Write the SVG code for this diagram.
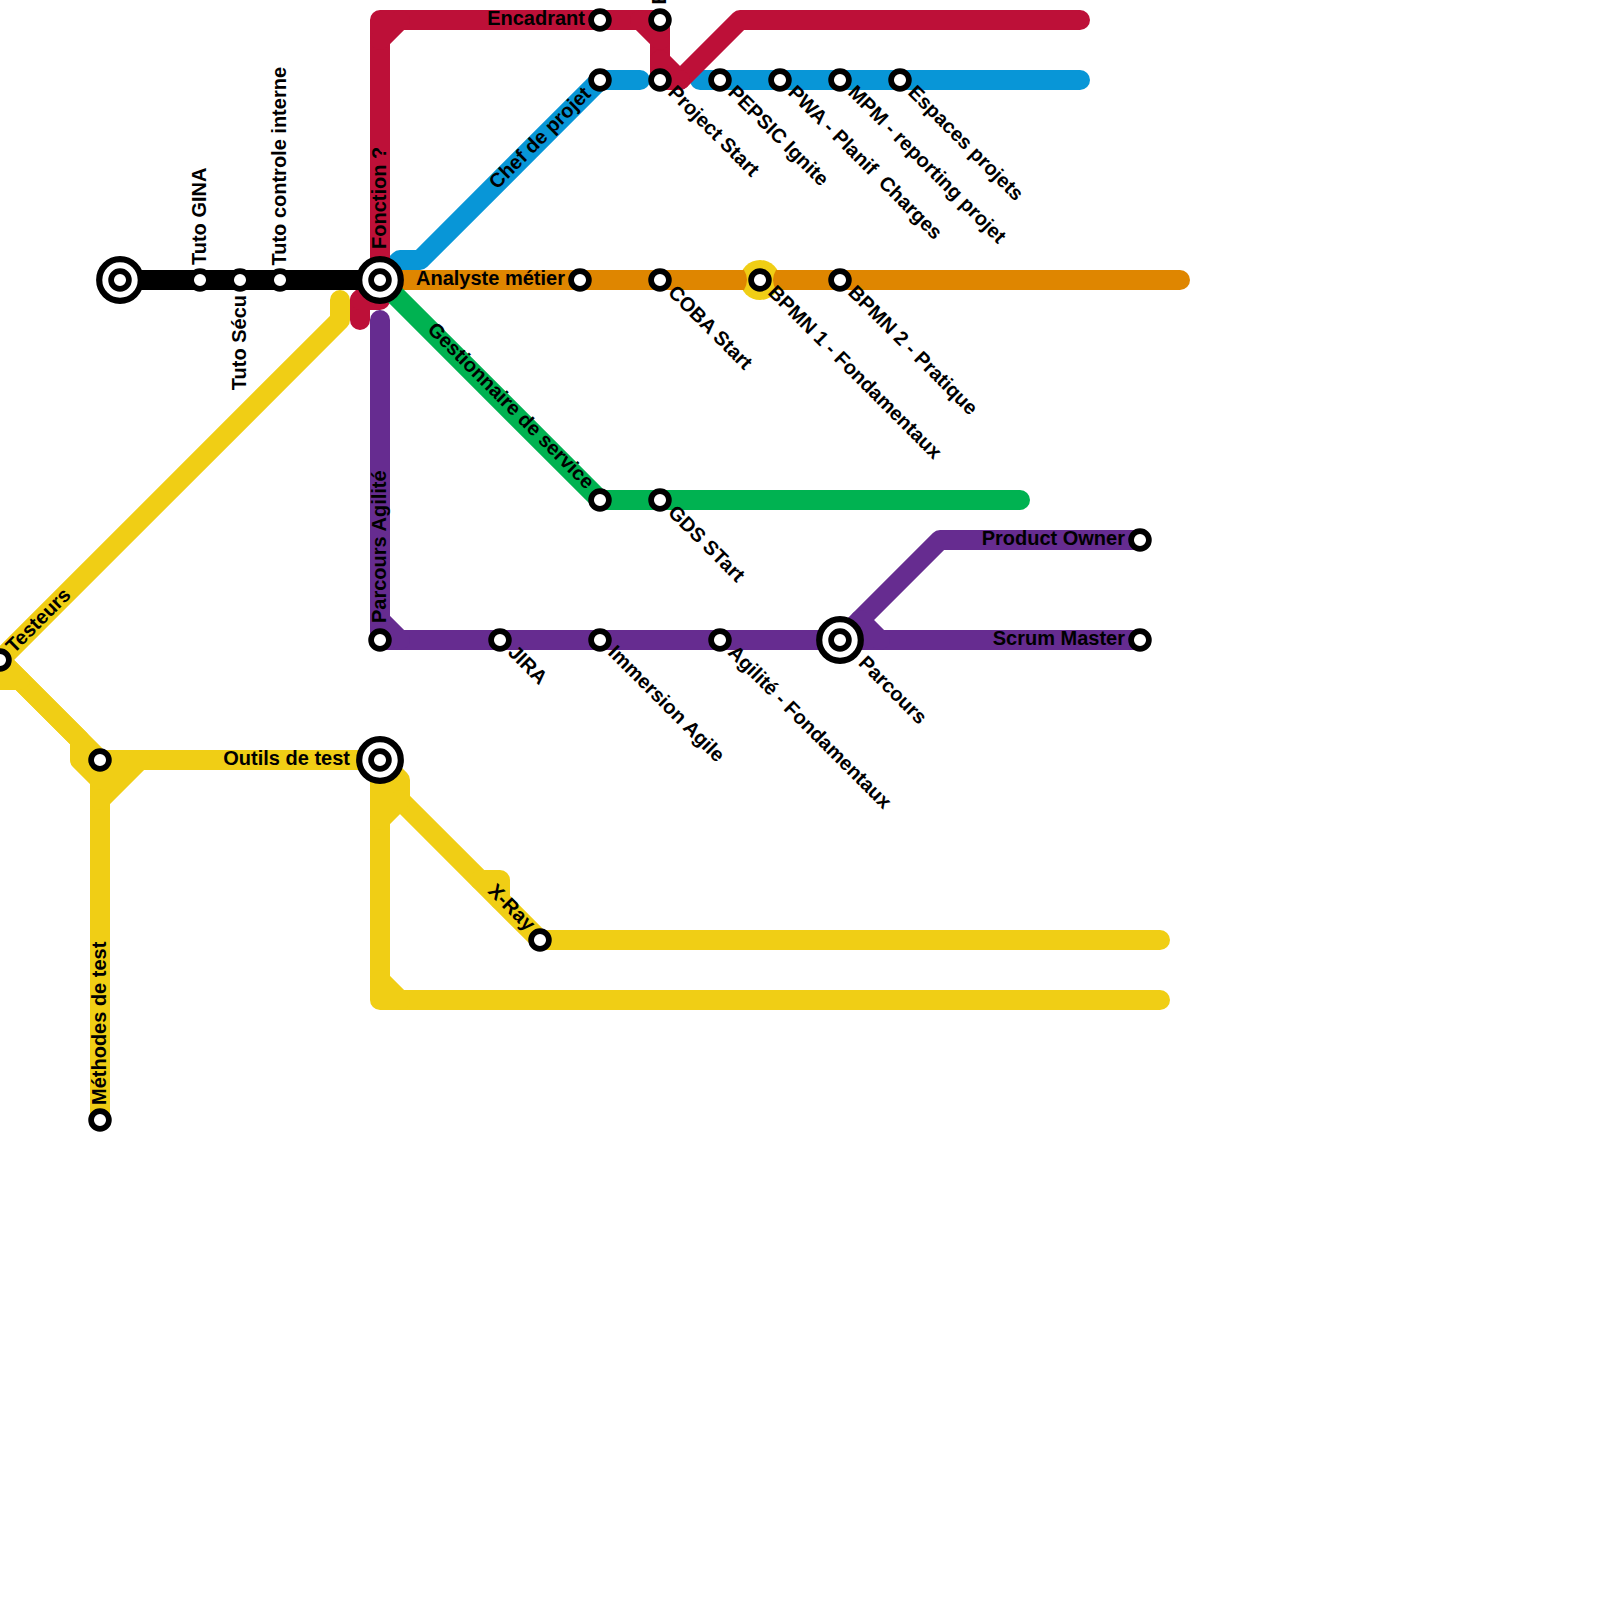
<svg xmlns="http://www.w3.org/2000/svg" width="1600" height="1600" viewBox="0 0 1600 1600">
<style>
.l{fill:none;stroke-width:20;stroke-linecap:round;stroke-linejoin:round}
.y{stroke:#f0ce15}.r{stroke:#bd1038}.b{stroke:#0896d7}.g{stroke:#00b251}.p{stroke:#662c90}.k{stroke:#000}
.s{fill:#fff;stroke:#000;stroke-width:5.7}
.h{fill:#fff;stroke:#000;stroke-width:6.2}
text{font-family:"Liberation Sans",Arial,sans-serif;font-weight:700;font-size:20px;fill:#000}
.e{text-anchor:end}
</style>
<g id="connectors">
<path class="l y" d="M340 300V320L0 660"/>
<path class="l y" d="M0 660L100 760H380"/>
<path class="l y" d="M0 660L80 740V760L100 780V1120"/>
<path class="l y" d="M100 800L140 760"/>
<path class="l y" d="M100 780L120 760"/>
<path class="l y" d="M0 680H20"/>
<path class="l y" d="M380 760V1000H1160"/>
<path class="l y" d="M380 980L400 1000"/>
<path class="l y" d="M380 760L400 780V800L540 940H1160"/>
<path class="l y" d="M380 820L400 800"/>
<path class="l y" d="M480 880H500V900"/>
<path class="l b" d="M380 280L400 260H420L600 80H640"/>
<path class="l b" d="M700 80H1080"/>
<path class="l r" d="M380 280V20H660V80"/>
<path class="l r" d="M380 40L400 20"/>
<path class="l r" d="M640 20L660 40"/>
<path class="l r" d="M660 60L680 80L740 20H1080"/>
<path class="l r" d="M660 80H680"/>
<path class="l r" d="M360 320V300L380 280"/>
<path class="l r" d="M360 300H380"/>
<circle cx="760" cy="280" r="20" fill="#f0ce15"/>
<path fill="#df8600" d="M380 270H744Q750 280 744 290H380Z"/>
<path fill="#df8600" d="M776 270Q770 280 776 290H1180A10 10 0 0 0 1180 270Z"/>
<path class="l g" d="M380 280L600 500H1020"/>
<path class="l p" d="M380 320V640H1140"/>
<path class="l p" d="M380 620L400 640"/>
<path class="l p" d="M840 640L940 540H1140"/>
<path class="l p" d="M860 620L880 640"/>
<path class="l k" d="M120 280H380"/>
</g>
<g id="n-tronc"><circle class="h" cx="120" cy="280" r="20.8"/><circle class="s" cx="120" cy="280" r="8.9"/></g>
<g id="n-gina"><circle class="s" cx="200" cy="280" r="8.9"/><text transform="translate(206,265) rotate(-90)">Tuto GINA</text></g>
<g id="n-secu"><circle class="s" cx="240" cy="280" r="8.9"/><text class="e" transform="translate(246,295) rotate(-90)">Tuto Sécu</text></g>
<g id="n-controle"><circle class="s" cx="280" cy="280" r="8.9"/><text transform="translate(286,265.5) rotate(-90)">Tuto controle interne</text></g>
<g id="n-fonction"><circle class="h" cx="380" cy="280" r="20.8"/><circle class="s" cx="380" cy="280" r="8.9"/><text transform="translate(386,249) rotate(-90)">Fonction ?</text></g>
<g id="n-analyste"><circle class="s" cx="580" cy="280" r="8.9"/><text class="e" x="565" y="285">Analyste métier</text></g>
<g id="n-coba"><circle class="s" cx="660" cy="280" r="8.9"/><text transform="translate(667,293.5) rotate(45)">COBA Start</text></g>
<g id="n-bpmn1"><circle class="s" cx="760" cy="280" r="8.9"/><text transform="translate(767,293.5) rotate(45)">BPMN 1 - Fondamentaux</text></g>
<g id="n-bpmn2"><circle class="s" cx="840" cy="280" r="8.9"/><text transform="translate(847,293.5) rotate(45)">BPMN 2 - Pratique</text></g>
<g id="n-encadrant"><circle class="s" cx="600" cy="20" r="8.9"/><text class="e" x="585" y="25">Encadrant</text></g>
<g id="n-top"><circle class="s" cx="660" cy="20" r="8.9"/><text transform="translate(666,4.5) rotate(-90)">E</text></g>
<g id="n-chef"><circle class="s" cx="600" cy="80" r="8.9"/><text class="e" transform="translate(592,95) rotate(-45)">Chef de projet</text></g>
<g id="n-start"><circle class="s" cx="660" cy="80" r="8.9"/><text transform="translate(667,93.5) rotate(45)">Project Start</text></g>
<g id="n-pepsic"><circle class="s" cx="720" cy="80" r="8.9"/><text transform="translate(727,93.5) rotate(45)">PEPSIC Ignite</text></g>
<g id="n-pwa"><circle class="s" cx="780" cy="80" r="8.9"/><text transform="translate(787,93.5) rotate(45)" xml:space="preserve">PWA - Planif  Charges</text></g>
<g id="n-mpm"><circle class="s" cx="840" cy="80" r="8.9"/><text transform="translate(847,93.5) rotate(45)">MPM - reporting projet</text></g>
<g id="n-espaces"><circle class="s" cx="900" cy="80" r="8.9"/><text transform="translate(907,93.5) rotate(45)">Espaces projets</text></g>
<g id="n-gds"><circle class="s" cx="660" cy="500" r="8.9"/><text transform="translate(667,513.5) rotate(45)">GDS STart</text></g>
<g id="n-gest"><circle class="s" cx="600" cy="500" r="8.9"/><text class="e" transform="translate(586,490) rotate(45)">Gestionnaire de service</text></g>
<g id="n-agile"><circle class="s" cx="380" cy="640" r="8.9"/><text transform="translate(386,623) rotate(-90)">Parcours Agilité</text></g>
<g id="n-jira"><circle class="s" cx="500" cy="640" r="8.9"/><text transform="translate(507,653.5) rotate(45)">JIRA</text></g>
<g id="n-immersion"><circle class="s" cx="600" cy="640" r="8.9"/><text transform="translate(607,653.5) rotate(45)">Immersion Agile</text></g>
<g id="n-fondagile"><circle class="s" cx="720" cy="640" r="8.9"/><text transform="translate(727,653.5) rotate(45)">Agilité - Fondamentaux</text></g>
<g id="n-parcours"><circle class="h" cx="840" cy="640" r="20.8"/><circle class="s" cx="840" cy="640" r="8.9"/><text transform="translate(857.5,664) rotate(45)">Parcours</text></g>
<g id="n-po"><circle class="s" cx="1140" cy="540" r="8.9"/><text class="e" x="1125" y="545">Product Owner</text></g>
<g id="n-sm"><circle class="s" cx="1140" cy="640" r="8.9"/><text class="e" x="1125" y="645">Scrum Master</text></g>
<g id="n-testeurs"><circle class="s" cx="0" cy="660" r="8.9"/><text transform="translate(14,654) rotate(-45)">Testeurs</text></g>
<g id="n-croisement"><circle class="s" cx="100" cy="760" r="8.9"/></g>
<g id="n-methodes"><circle class="s" cx="100" cy="1120" r="8.9"/><text transform="translate(106,1105) rotate(-90)">Méthodes de test</text></g>
<g id="n-outils"><circle class="h" cx="380" cy="760" r="20.8"/><circle class="s" cx="380" cy="760" r="8.9"/><text class="e" x="350" y="765">Outils de test</text></g>
<g id="n-xray"><circle class="s" cx="540" cy="940" r="8.9"/><text class="e" transform="translate(527,932) rotate(45)">X-Ray</text></g>
</svg>
